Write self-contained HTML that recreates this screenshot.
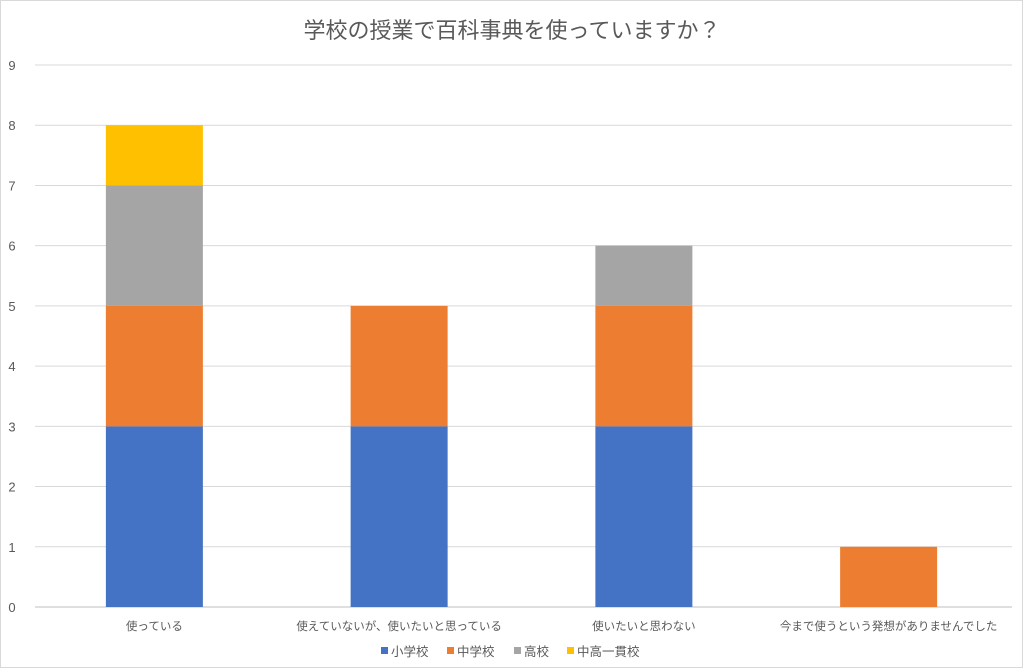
<!DOCTYPE html>
<html><head><meta charset="utf-8"><style>
html,body{margin:0;padding:0;background:#fff;}
svg{display:block;font-family:"Liberation Sans","Noto Sans CJK JP",sans-serif;}
</style></head><body>
<svg id="c" width="1024" height="672">
<rect x="0.5" y="0.5" width="1022" height="667" fill="#fff" stroke="#d9d9d9"/>
<text x="512" y="38" text-anchor="middle" font-size="22" fill="#595959">学校の授業で百科事典を使っていますか？</text>
<g id="grid"></g><g id="bars"></g><g id="xl"></g><g id="leg"></g>
</svg>
<script>
const categories=["使っている","使えていないが、使いたいと思っている","使いたいと思わない","今まで使うという発想がありませんでした"];
const seriesNames=["小学校","中学校","高校","中高一貫校"];
const seriesColors=["#4472c4","#ed7d31","#a5a5a5","#ffc000"];
const s1=[3,3,3,0];
const s2=[2,2,2,1];
const s3=[2,0,1,0];
const s4=[1,0,0,0];
const yTicks=[0,1,2,3,4,5,6,7,8,9];
const series=[s1,s2,s3,s4];
const NS="http://www.w3.org/2000/svg";
const x0=32,x1=1011,y0=607,yTop=65,ymax=9;
const y=v=>y0-(y0-yTop)*v/ymax;
const band=(x1-x0)/categories.length;
const cx=i=>x0+band*(i+0.5);
const bw=97;
function mk(t,a,p){const e=document.createElementNS(NS,t);for(const k in a)e.setAttribute(k,a[k]);p.appendChild(e);return e;}
const g=document.getElementById('grid');
yTicks.forEach(t=>{
 const l=mk('line',{x1:35,x2:1012,y1:y(t),y2:y(t),stroke:t===0?'#bfbfbf':'#d9d9d9','stroke-width':1},g);
 
 
 const tx=mk('text',{x:12,y:y(t)+5,'text-anchor':'middle','font-size':13,fill:'#595959'},g);
 tx.textContent=t;
 
 
});
const b=document.getElementById('bars');
categories.forEach((c,i)=>{
 let acc=0;
 series.forEach((s,j)=>{
  const v=s[i]; if(!v) return;
  const r=mk('rect',{x:cx(i)-bw/2,y:y(acc+v),width:bw,height:y(acc)-y(acc+v),fill:seriesColors[j]},b);
  
  
  acc+=v;
 });
 const t=mk('text',{x:cx(i),y:630,'text-anchor':'middle','font-size':11.5,fill:'#595959'},document.getElementById('xl'));
 t.textContent=c;
 
 
});
const lg=document.getElementById('leg');
const lx=[381,447,514,567];
seriesNames.forEach((n,j)=>{
 const r=mk('rect',{x:lx[j],y:647,width:7,height:7,fill:seriesColors[j]},lg);
 
 
 const t=mk('text',{x:lx[j]+10,y:656,'font-size':12.5,fill:'#595959'},lg);
 t.textContent=n;
 
 
});
</script>
</body></html>
